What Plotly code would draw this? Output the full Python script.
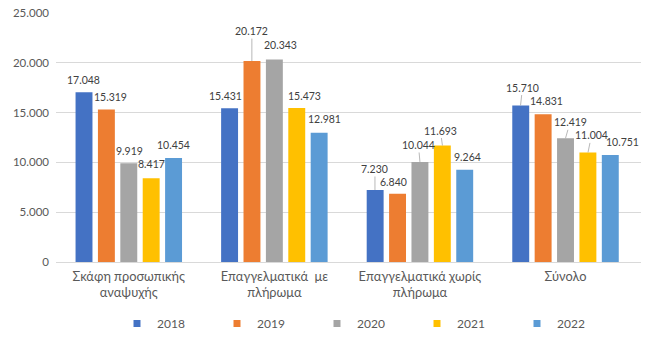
import plotly.graph_objects as go

# Vessel categories (Greek labels, two lines where wrapped)
categories = [
    "Σκάφη προσωπικής<br>αναψυχής",
    "Επαγγελματικά  με<br>πλήρωμα",
    "Επαγγελματικά χωρίς<br>πλήρωμα",
    "Σύνολο",
]
years = ["2018", "2019", "2020", "2021", "2022"]

# Values per year, one entry per category
v2018 = [17048, 15431, 7230, 15710]
v2019 = [15319, 20172, 6840, 14831]
v2020 = [9919, 20343, 10044, 12419]
v2021 = [8417, 15473, 11693, 11004]
v2022 = [10454, 12981, 9264, 10751]
series = [v2018, v2019, v2020, v2021, v2022]

colors = ["#4472C4", "#ED7D31", "#A5A5A5", "#FFC000", "#5B9BD5"]

# Figure geometry
W, H = 650, 338
ML, MR, MT, MB = 56, 9, 13, 76
BARGAP, GROUPGAP = 0.231, 0.244
FONT = "Lato, 'Noto Sans', sans-serif"
TXT = "#595959"

# Label placement tweaks: (category, series) -> (dx px, height above bar top px, leader line)
label_tweaks = {
    (0, 0): (0, 12, False), (0, 1): (4, 12, False), (0, 2): (0.5, 12, False),
    (0, 3): (0, 14, False), (0, 4): (0, 12.5, False),
    (1, 0): (-4, 12, False), (1, 1): (0, 30, True), (1, 2): (6, 14, False),
    (1, 3): (7.5, 12, False), (1, 4): (5.5, 14, False),
    (2, 0): (0, 21, True), (2, 1): (-4, 12, False), (2, 2): (-1.5, 17, True),
    (2, 3): (-2, 15, True), (2, 4): (3, 13, False),
    (3, 0): (2, 18, True), (3, 1): (3, 13, False), (3, 2): (4.5, 16, True),
    (3, 3): (3.5, 17, True), (3, 4): (12, 13, False),
}

fig = go.Figure()
for yr, vals, col in zip(years, series, colors):
    fig.add_trace(go.Bar(
        name=yr, x=categories, y=vals, marker=dict(color=col, line=dict(width=0)),
        hoverinfo="skip", showlegend=False, legendgroup=yr,
    ))
# Small square swatches for the legend
for yr, col in zip(years, colors):
    fig.add_trace(go.Scatter(
        name=yr, x=[None], y=[None], mode="markers", legendgroup=yr,
        marker=dict(symbol="square", size=7, color=col), hoverinfo="skip",
    ))

# Data labels placed relative to each bar top
plot_w = W - ML - MR
slot = plot_w / len(categories) * (1 - BARGAP) / len(series)
annotations = []
for si, vals in enumerate(series):
    offset = (si - (len(series) - 1) / 2) * slot
    for ci, v in enumerate(vals):
        dx, up, leader = label_tweaks.get((ci, si), (0, 12, False))
        text = f"{v:,}".replace(",", ".")
        if leader:
            annotations.append(dict(
                x=categories[ci], y=v, xref="x", yref="y", text=text,
                showarrow=True, arrowhead=0, arrowwidth=0.8, arrowcolor="#A6A6A6",
                ax=dx, ay=-up, xshift=offset, standoff=0,
                font=dict(family=FONT, size=10.5, color="#404040"),
            ))
        else:
            annotations.append(dict(
                x=categories[ci], y=v, xref="x", yref="y", text=text,
                showarrow=False, xshift=offset + dx, yshift=up,
                yanchor="middle", xanchor="center",
                font=dict(family=FONT, size=10.5, color="#404040"),
            ))

# Legend starts near x = 117 px
legend_x = (117 - ML) / plot_w

fig.update_layout(
    width=W, height=H,
    margin=dict(l=ML, r=MR, t=MT, b=MB, autoexpand=False),
    paper_bgcolor="white", plot_bgcolor="white",
    barmode="group", bargap=BARGAP, bargroupgap=GROUPGAP,
    separators=",.",
    font=dict(family=FONT, size=11.5, color=TXT),
    xaxis=dict(
        showgrid=False, showline=False, ticks="", ticklabelstandoff=5,
        tickfont=dict(family=FONT, size=12.8, color=TXT),
    ),
    yaxis=dict(
        range=[0, 25000], tick0=0, dtick=5000, tickformat=",d",
        showgrid=True, gridcolor="#D9D9D9", gridwidth=1,
        zeroline=True, zerolinecolor="#D9D9D9", zerolinewidth=1,
        showline=False, ticks="", ticklabelstandoff=6,
        tickfont=dict(family=FONT, size=11.5, color=TXT),
    ),
    legend=dict(
        orientation="h", x=legend_x, xanchor="left", y=322, yanchor="middle",
        yref="container", entrywidth=55, traceorder="normal",
        itemsizing="trace", tracegroupgap=0,
        font=dict(family=FONT, size=12, color=TXT),
    ),
    annotations=annotations,
    showlegend=True,
)

fig.write_html("out.html")
